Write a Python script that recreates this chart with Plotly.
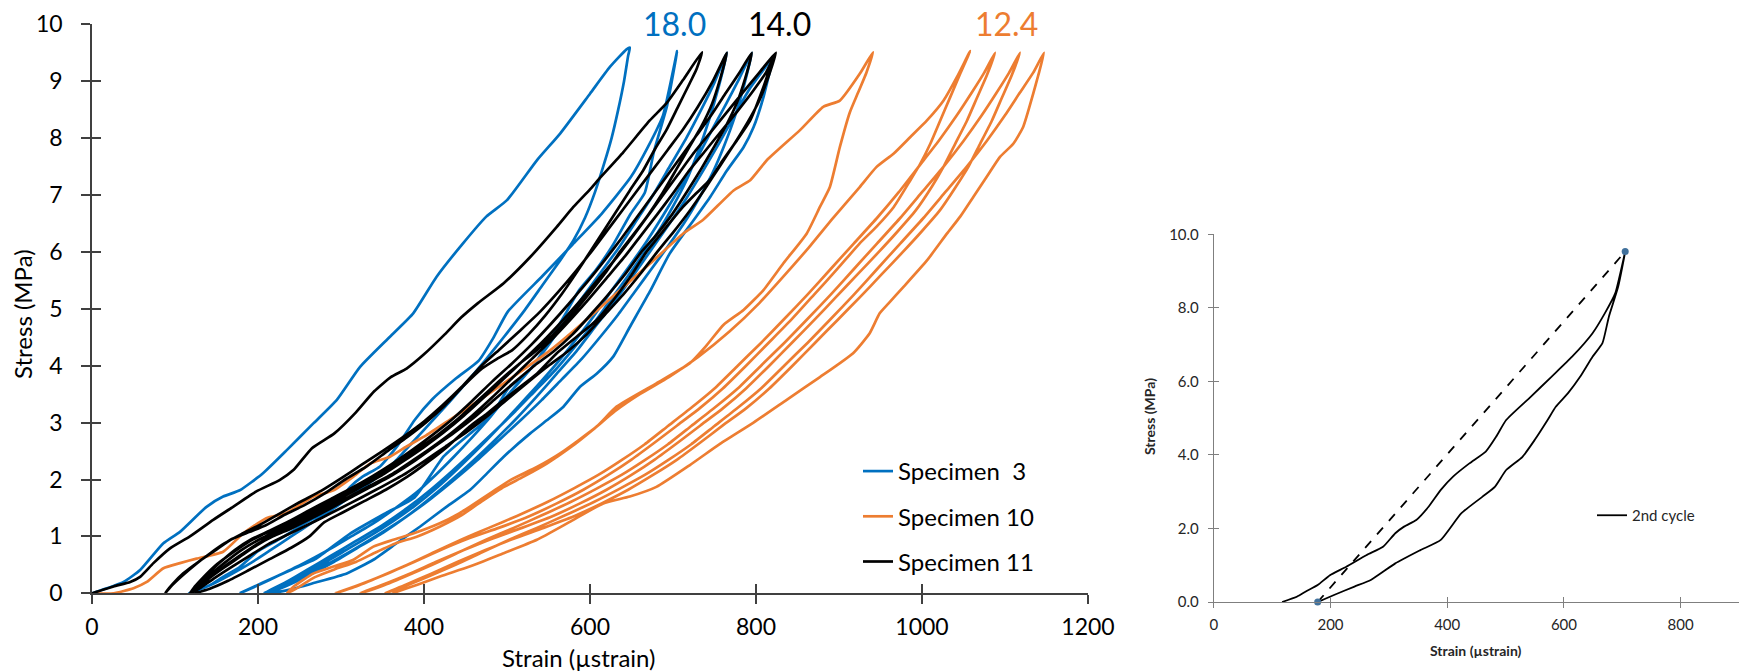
import plotly.graph_objects as go

W, H = 1744, 671
BLUE, ORANGE, BLACK = "#0070C0", "#ED7D31", "#000000"
AX = "#404040"
FONT = "Lato"

# ---------------- Specimen 3 (blue): (strain, stress) ----------------
s3_load1 = [(0,0),(38,0.2),(58,0.41),(86,0.88),(106,1.08),(138,1.52),(158,1.70),(178,1.81),(206,2.11),(235,2.52),(267,2.99),(295,3.40),(323,3.98),(359,4.51),(387,4.92),(415,5.56),(447,6.15),(475,6.62),(500,6.91),(536,7.61),(564,8.08),(600,8.78),(624,9.25),(644,9.56),(648,9.59)]
s3_unload1 = [(648,9.59),(646,9.45),(641,9.0),(634,8.5),(626,8.0),(617,7.55),(606,7.05),(594,6.6),(580,6.2),(564,5.85),(542,5.4),(520,4.95),(496,4.5),(474,4.1),(452,3.72),(430,3.35),(408,3.0),(386,2.65),(364,2.3),(340,2.0),(316,1.75),(292,1.5),(266,1.25),(240,1.0),(214,0.75),(190,0.52),(166,0.32),(142,0.14),(117,0)]
s3_load2 = [(117,0),(143,0.15),(157,0.28),(178,0.46),(199,0.73),(227,0.96),(262,1.28),(290,1.5),(311,1.87),(326,2.05),(347,2.23),(368,2.59),(389,3.05),(410,3.41),(438,3.77),(466,4.09),(484,4.5),(501,4.95),(543,5.58),(579,6.13),(614,6.67),(649,7.31),(670,7.85),(688,8.4),(705,9.53)]
s3_unload2 = [(705,9.53),(693,8.58),(677,7.76),(666,7.04),(649,6.67),(628,6.13),(607,5.68),(586,5.31),(572,4.95),(550,4.41),(529,3.95),(501,3.59),(482,3.14),(460,2.86),(424,2.41),(389,1.69),(354,1.41),(311,1.05),(269,0.6),(241,0.42),(206,0.19),(178,0)]
s3_load3 = [(178,0),(200,0.14),(226,0.32),(254,0.52),(282,0.74),(310,0.98),(338,1.22),(364,1.48),(390,1.76),(414,2.08),(436,2.4),(458,2.74),(480,3.1),(502,3.5),(526,3.9),(548,4.32),(570,4.78),(592,5.22),(614,5.66),(636,6.1),(656,6.55),(676,7.0),(696,7.5),(716,8.0),(734,8.5),(750,8.98),(765,9.5)]
s3_unload3 = [(765,9.5),(755,8.9),(743,8.3),(730,7.75),(716,7.25),(700,6.8),(682,6.35),(662,5.92),(642,5.5),(622,5.1),(602,4.7),(580,4.3),(558,3.92),(534,3.56),(510,3.2),(486,2.86),(460,2.5),(434,2.15),(408,1.82),(380,1.5),(350,1.2),(318,0.92),(288,0.66),(260,0.42),(234,0.2),(207,0)]
s3_load4 = [(207,0),(228,0.14),(252,0.32),(278,0.52),(306,0.76),(334,1.0),(362,1.26),(390,1.55),(416,1.86),(440,2.18),(464,2.52),(488,2.88),(512,3.26),(536,3.64),(560,4.04),(582,4.44),(604,4.86),(624,5.28),(646,5.72),(668,6.18),(688,6.64),(708,7.12),(728,7.62),(746,8.12),(764,8.6),(780,9.05),(795,9.5)]
s3_unload4 = [(795,9.5),(786,8.95),(775,8.4),(762,7.88),(748,7.4),(732,6.96),(714,6.52),(694,6.1),(674,5.7),(654,5.3),(634,4.9),(612,4.5),(590,4.12),(566,3.76),(542,3.4),(517,3.05),(491,2.7),(464,2.34),(437,2.0),(408,1.66),(378,1.34),(346,1.04),(314,0.76),(282,0.5),(248,0.26),(230,0.12),(212,0)]
s3_load5 = [(212,0),(236,0.14),(262,0.32),(290,0.54),(320,0.8),(350,1.06),(380,1.36),(408,1.68),(434,2.0),(460,2.34),(486,2.7),(512,3.08),(536,3.46),(560,3.86),(584,4.26),(606,4.68),(628,5.1),(650,5.54),(672,6.0),(694,6.46),(716,6.94),(736,7.42),(756,7.92),(774,8.4),(792,8.86),(808,9.18),(822,9.45)]
s3_unload5 = [(822,9.45),(819,9.31),(809,8.72),(797,8.19),(785,7.84),(765,7.43),(745,6.97),(725,6.56),(696,5.97),(672,5.3),(648,4.68),(628,4.16),(608,3.86),(588,3.63),(568,3.28),(548,3.04),(528,2.81),(496,2.4),(472,2.05),(455,1.81),(427,1.52),(395,1.17),(367,0.88),(339,0.59),(307,0.35),(267,0.18),(240,0.07),(215,0)]

# ---------------- Specimen 10 (orange) ----------------
s10_load1 = [(0,0),(26,0),(50,0.09),(66,0.2),(86,0.44),(106,0.53),(126,0.61),(158,0.73),(182,1.05),(210,1.32),(234,1.41),(267,1.7),(291,1.81),(315,2.05),(335,2.28),(359,2.4),(379,2.58),(403,2.78),(431,3.05),(467,3.4),(496,3.69),(552,4.27),(600,4.86),(640,5.38),(672,5.79),(712,6.32),(736,6.56),(773,7.08),(793,7.26),(813,7.61),(853,8.14),(881,8.55),(901,8.66),(925,9.13),(941,9.51)]
s10_unload1 = [(941,9.51),(933,9.15),(923,8.8),(913,8.45),(901,7.84),(889,7.14),(877,6.79),(861,6.32),(833,5.8),(809,5.33),(785,4.98),(761,4.72),(740,4.35),(720,4.04),(680,3.69),(632,3.28),(608,2.93),(564,2.46),(536,2.22),(504,1.99),(480,1.76),(455,1.52),(443,1.41),(419,1.23),(387,1.05),(363,0.94),(339,0.82),(315,0.59),(291,0.47),(267,0.35),(243,0.12),(235,0)]
s10_load2 = [(235,0),(248,0.1),(268,0.28),(292,0.42),(318,0.55),(342,0.72),(366,0.88),(392,1.0),(420,1.18),(446,1.38),(470,1.62),(494,1.85),(520,2.05),(548,2.28),(578,2.58),(604,2.88),(630,3.2),(660,3.5),(695,3.8),(730,4.15),(768,4.6),(804,5.1),(835,5.6),(862,6.05),(893,6.6),(925,7.14),(945,7.49),(966,7.73),(986,8.02),(1006,8.31),(1026,8.66),(1042,9.07),(1058,9.53)]
s10_unload2 = [(1058,9.53),(1046,9.13),(1034,8.72),(1022,8.31),(1010,7.9),(998,7.55),(986,7.26),(966,6.79),(945,6.44),(925,6.15),(898,5.7),(870,5.25),(842,4.8),(815,4.4),(788,4.0),(760,3.6),(732,3.25),(705,2.95),(678,2.65),(650,2.35),(622,2.08),(592,1.82),(560,1.58),(526,1.35),(490,1.15),(455,0.97),(420,0.76),(388,0.55),(355,0.34),(322,0.15),(293,0)]
s10_load3 = [(293,0),(318,0.12),(348,0.3),(380,0.5),(412,0.72),(446,0.95),(478,1.15),(512,1.36),(548,1.6),(580,1.84),(610,2.08),(638,2.34),(666,2.62),(694,2.94),(722,3.26),(750,3.6),(778,4.0),(806,4.4),(834,4.82),(862,5.25),(890,5.7),(918,6.15),(946,6.6),(972,7.05),(996,7.5),(1020,7.95),(1042,8.4),(1060,8.8),(1075,9.15),(1088,9.5)]
s10_unload3 = [(1088,9.5),(1078,9.1),(1066,8.7),(1054,8.3),(1040,7.9),(1026,7.5),(1012,7.15),(992,6.72),(970,6.35),(948,6.0),(922,5.6),(896,5.2),(870,4.8),(843,4.4),(816,4.0),(788,3.6),(760,3.25),(733,2.95),(706,2.65),(678,2.35),(650,2.08),(620,1.82),(588,1.58),(554,1.35),(518,1.15),(482,0.96),(448,0.76),(414,0.55),(382,0.34),(350,0.15),(323,0)]
s10_load4 = [(323,0),(348,0.12),(378,0.3),(410,0.5),(442,0.72),(476,0.95),(508,1.15),(542,1.37),(576,1.6),(608,1.84),(638,2.08),(666,2.34),(694,2.62),(722,2.94),(750,3.26),(778,3.6),(806,4.0),(834,4.4),(862,4.82),(890,5.25),(918,5.7),(946,6.15),(974,6.6),(1000,7.05),(1026,7.5),(1050,7.95),(1072,8.4),(1090,8.8),(1105,9.15),(1118,9.5)]
s10_unload4 = [(1118,9.5),(1108,9.1),(1096,8.7),(1084,8.3),(1070,7.9),(1056,7.5),(1041,7.15),(1021,6.72),(999,6.35),(977,6.0),(951,5.6),(925,5.2),(898,4.8),(871,4.4),(844,4.0),(816,3.6),(788,3.25),(760,2.95),(733,2.65),(705,2.35),(676,2.08),(646,1.82),(614,1.58),(580,1.35),(544,1.15),(508,0.96),(474,0.76),(440,0.55),(408,0.34),(378,0.15),(353,0)]
s10_load5 = [(353,0),(376,0.12),(406,0.3),(438,0.5),(470,0.72),(504,0.95),(536,1.15),(570,1.37),(604,1.6),(636,1.84),(666,2.08),(694,2.34),(722,2.62),(750,2.94),(778,3.26),(806,3.6),(834,4.0),(862,4.4),(890,4.82),(918,5.25),(946,5.7),(974,6.15),(1002,6.6),(1028,7.05),(1054,7.5),(1078,7.95),(1100,8.4),(1118,8.8),(1134,9.15),(1147,9.5)]
s10_unload5 = [(1147,9.5),(1140,9.1),(1134,8.78),(1122,8.2),(1110,7.9),(1094,7.67),(1078,7.32),(1062,6.97),(1046,6.62),(1030,6.32),(1006,5.85),(978,5.39),(960,5.1),(949,4.92),(937,4.57),(917,4.22),(877,3.8),(837,3.4),(797,3.0),(757,2.63),(720,2.25),(680,1.87),(648,1.7),(616,1.58),(575,1.25),(536,0.94),(495,0.7),(455,0.47),(420,0.3),(392,0.15),(370,0.04),(362,0)]

# ---------------- Specimen 11 (black) ----------------
s11_load1 = [(0,0),(26,0.12),(46,0.2),(58,0.29),(74,0.53),(94,0.79),(118,1.0),(146,1.29),(170,1.52),(198,1.79),(226,1.99),(243,2.17),(265,2.55),(292,2.81),(318,3.18),(340,3.55),(360,3.8),(379,3.95),(400,4.2),(425,4.55),(445,4.85),(465,5.1),(496,5.45),(528,5.91),(560,6.44),(580,6.79),(600,7.1),(612,7.3),(640,7.75),(672,8.31),(692,8.61),(712,9.02),(735,9.51)]
s11_unload1 = [(735,9.51),(728,9.2),(720,8.96),(706,8.55),(692,8.14),(678,7.8),(664,7.43),(648,7.08),(632,6.72),(616,6.36),(600,6.0),(584,5.64),(566,5.26),(546,4.88),(526,4.55),(506,4.27),(488,4.12),(470,3.95),(448,3.65),(425,3.3),(402,3.0),(380,2.75),(356,2.5),(330,2.22),(305,2.0),(280,1.75),(256,1.55),(232,1.38),(210,1.2),(190,1.08),(168,0.95),(148,0.75),(128,0.55),(110,0.35),(97,0.16),(88,0)]
s11_load2 = [(88,0),(95,0.12),(108,0.3),(124,0.5),(142,0.7),(160,0.88),(180,1.04),(202,1.2),(226,1.4),(250,1.6),(276,1.8),(300,2.02),(325,2.26),(350,2.5),(376,2.76),(400,3.02),(422,3.3),(445,3.62),(468,3.98),(492,4.3),(516,4.62),(540,4.95),(562,5.3),(584,5.68),(604,6.05),(622,6.4),(640,6.75),(658,7.1),(676,7.45),(694,7.8),(712,8.15),(730,8.55),(748,9.0),(765,9.5)]
s11_unload2 = [(765,9.5),(757,9.05),(747,8.6),(734,8.2),(720,7.85),(704,7.45),(688,7.05),(670,6.65),(652,6.3),(636,6.0),(618,5.62),(598,5.25),(578,4.9),(556,4.55),(534,4.25),(512,4.0),(490,3.72),(466,3.4),(442,3.08),(418,2.8),(394,2.55),(370,2.3),(346,2.08),(322,1.9),(296,1.68),(272,1.5),(248,1.32),(226,1.16),(205,1.03),(186,0.88),(166,0.68),(148,0.48),(134,0.28),(124,0.12),(118,0)]
s11_load3 = [(118,0),(126,0.14),(138,0.32),(154,0.54),(172,0.76),(192,0.95),(214,1.1),(238,1.27),(262,1.46),(288,1.66),(314,1.86),(338,2.06),(362,2.28),(386,2.52),(410,2.78),(434,3.06),(458,3.38),(482,3.72),(506,4.04),(530,4.38),(552,4.72),(574,5.08),(596,5.46),(618,5.86),(638,6.24),(656,6.6),(674,6.96),(692,7.32),(710,7.68),(728,8.04),(746,8.4),(764,8.8),(780,9.15),(795,9.5)]
s11_unload3 = [(795,9.5),(787,9.05),(777,8.62),(764,8.22),(750,7.86),(734,7.46),(717,7.06),(699,6.66),(680,6.3),(662,6.0),(643,5.62),(622,5.25),(601,4.9),(579,4.55),(556,4.25),(533,4.0),(510,3.72),(486,3.42),(461,3.1),(436,2.82),(411,2.56),(386,2.3),(361,2.07),(337,1.88),(311,1.68),(286,1.48),(262,1.3),(240,1.14),(218,1.0),(198,0.84),(178,0.64),(158,0.44),(140,0.25),(127,0.1),(118,0)]
s11_load4 = [(118,0),(128,0.14),(142,0.32),(160,0.54),(180,0.76),(202,0.95),(226,1.12),(250,1.3),(276,1.49),(302,1.69),(328,1.9),(352,2.1),(376,2.33),(400,2.57),(424,2.83),(448,3.12),(472,3.44),(496,3.77),(520,4.1),(544,4.44),(566,4.78),(588,5.14),(610,5.52),(632,5.9),(652,6.28),(670,6.64),(688,7.0),(706,7.36),(724,7.72),(744,8.08),(764,8.44),(784,8.8),(804,9.15),(824,9.5)]
s11_unload4 = [(824,9.5),(815,9.08),(804,8.66),(790,8.28),(774,7.9),(757,7.52),(739,7.12),(720,6.72),(700,6.34),(681,6.0),(661,5.62),(640,5.25),(618,4.9),(596,4.55),(573,4.25),(550,4.0),(526,3.72),(502,3.43),(477,3.12),(452,2.84),(426,2.58),(400,2.32),(375,2.08),(350,1.88),(324,1.68),(300,1.5),(276,1.32),(254,1.16),(234,1.02),(212,0.86),(190,0.66),(168,0.46),(148,0.27),(132,0.11),(120,0)]
s11_load5 = [(120,0),(130,0.14),(146,0.32),(166,0.54),(188,0.76),(210,0.96),(234,1.13),(258,1.31),(284,1.5),(310,1.7),(336,1.9),(362,2.1),(386,2.33),(410,2.57),(434,2.83),(458,3.12),(482,3.44),(506,3.78),(530,4.12),(554,4.46),(576,4.8),(598,5.16),(620,5.54),(642,5.92),(662,6.3),(681,6.66),(700,7.03),(718,7.4),(738,7.76),(758,8.12),(778,8.48),(796,8.82),(812,9.15),(824,9.5)]
s11_unload5 = [(824,9.5),(816,9.2),(809,8.9),(793,8.31),(777,7.96),(760,7.61),(744,7.26),(728,7.03),(712,6.79),(690,6.4),(668,6.0),(648,5.55),(628,5.15),(608,4.8),(584,4.51),(560,4.22),(536,3.86),(516,3.63),(496,3.4),(476,3.16),(455,2.93),(430,2.6),(404,2.3),(380,2.05),(354,1.82),(328,1.62),(302,1.42),(280,1.25),(262,1.0),(240,0.8),(214,0.6),(188,0.4),(164,0.22),(142,0.08),(124,0)]

# labels / ticks
modulus_labels = [("18.0", BLUE, 674), ("14.0", BLACK, 779), ("12.4", ORANGE, 1006)]
main_xticks = [0, 200, 400, 600, 800, 1000, 1200]
main_yticks = list(range(0, 11))
inset_xticks = [0, 200, 400, 600, 800]
inset_yticks = [0, 2, 4, 6, 8, 10]


def path(*branches):
    xs, ys = [], []
    for i, b in enumerate(branches):
        pts = b if i == 0 else b[1:]
        xs += [p[0] for p in pts]
        ys += [p[1] for p in pts]
    return xs, ys


fig = go.Figure()

specs = [
    ("Specimen \u00a03", BLUE, [s3_load1, s3_unload1, s3_load2, s3_unload2, s3_load3, s3_unload3, s3_load4, s3_unload4, s3_load5, s3_unload5]),
    ("Specimen 10", ORANGE, [s10_load1, s10_unload1, s10_load2, s10_unload2, s10_load3, s10_unload3, s10_load4, s10_unload4, s10_load5, s10_unload5]),
    ("Specimen 11", BLACK, [s11_load1, s11_unload1, s11_load2, s11_unload2, s11_load3, s11_unload3, s11_load4, s11_unload4, s11_load5, s11_unload5]),
]
for name, col, branches in specs:
    xs, ys = path(*branches)
    fig.add_trace(go.Scatter(x=xs, y=ys, mode="lines", name=name, legendgroup=name,
                             line=dict(color=col, width=2.7, shape="spline", smoothing=0.5),
                             xaxis="x", yaxis="y", legend="legend", hoverinfo="skip"))

# inset: 2nd cycle of specimen 3
cx, cy = path(s3_load2, s3_unload2)
fig.add_trace(go.Scatter(x=cx, y=cy, mode="lines", name="2nd cycle",
                         line=dict(color=BLACK, width=1.8, shape="spline", smoothing=0.5),
                         xaxis="x2", yaxis="y2", legend="legend2", hoverinfo="skip"))
sec_x = [s3_unload2[-1][0], s3_load2[-1][0]]
sec_y = [s3_unload2[-1][1], s3_load2[-1][1]]
fig.add_trace(go.Scatter(x=sec_x, y=sec_y, mode="lines+markers", showlegend=False,
                         line=dict(color=BLACK, width=1.8, dash="dash"),
                         marker=dict(color="#41719C", size=7), cliponaxis=False,
                         xaxis="x2", yaxis="y2", hoverinfo="skip"))

# invisible helpers so the overlay axes (inner half of cross ticks) get drawn
for xa, ya in [("x3", "y"), ("x", "y3"), ("x4", "y2"), ("x2", "y4")]:
    fig.add_trace(go.Scatter(x=[0], y=[0], mode="markers", marker=dict(opacity=0, size=1),
                             showlegend=False, hoverinfo="skip", xaxis=xa, yaxis=ya))

main_x_dom = [92 / W, 1088 / W]
main_y_dom = [1 - 593.3 / H, 1 - 24.3 / H]
ins_x_dom = [1213.8 / W, 1739 / W]
ins_y_dom = [1 - 602 / H, 1 - 234.3 / H]

common = dict(showgrid=False, zeroline=False, showline=True, automargin=False)
ovl = dict(showticklabels=False, showline=False, showgrid=False, zeroline=False, automargin=False)
fig.update_layout(
    width=W, height=H, margin=dict(l=0, r=0, t=0, b=0, autoexpand=False),
    paper_bgcolor="white", plot_bgcolor="white",
    font=dict(family=FONT, color=BLACK),
    xaxis=dict(domain=main_x_dom, range=[0, 1200], tickvals=main_xticks, anchor="y",
               ticks="outside", ticklen=9, tickwidth=1.5, tickcolor=AX, linecolor=AX, linewidth=1.5,
               tickfont=dict(size=23, color=BLACK, family=FONT), ticklabelstandoff=3, **common),
    yaxis=dict(domain=main_y_dom, range=[0, 10], tickvals=main_yticks, anchor="x",
               ticks="outside", ticklen=9, tickwidth=1.5, tickcolor=AX, linecolor=AX, linewidth=1.5,
               tickfont=dict(size=23, color=BLACK, family=FONT), ticklabelstandoff=14, **common),
    xaxis3=dict(overlaying="x", anchor="y", range=[0, 1200], tickvals=main_xticks, ticks="inside",
                ticklen=9, tickwidth=1.5, tickcolor=AX, **ovl),
    yaxis3=dict(overlaying="y", anchor="x", range=[0, 10], tickvals=main_yticks, ticks="inside",
                ticklen=9, tickwidth=1.5, tickcolor=AX, **ovl),
    xaxis2=dict(domain=ins_x_dom, range=[0, 900], tickvals=inset_xticks, anchor="y2",
                ticks="outside", ticklen=5, tickwidth=1, tickcolor="#7F7F7F", linecolor="#7F7F7F", linewidth=1,
                tickfont=dict(size=15, color="#262626", family=FONT), ticklabelstandoff=4, **common),
    yaxis2=dict(domain=ins_y_dom, range=[0, 10], tickvals=inset_yticks, tickformat=".1f", anchor="x2",
                ticks="outside", ticklen=5, tickwidth=1, tickcolor="#7F7F7F", linecolor="#7F7F7F", linewidth=1,
                tickfont=dict(size=15, color="#262626", family=FONT), ticklabelstandoff=6, **common),
    xaxis4=dict(overlaying="x2", anchor="y2", range=[0, 900], tickvals=inset_xticks, ticks="inside",
                ticklen=5, tickwidth=1, tickcolor="#7F7F7F", **ovl),
    yaxis4=dict(overlaying="y2", anchor="x2", range=[0, 10], tickvals=inset_yticks, ticks="inside",
                ticklen=5, tickwidth=1, tickcolor="#7F7F7F", **ovl),
    legend=dict(x=858 / W, y=1 - 449 / H, xanchor="left", yanchor="top", bgcolor="rgba(0,0,0,0)",
                font=dict(size=24, family=FONT, color=BLACK), traceorder="grouped", tracegroupgap=11),
    legend2=dict(x=1592 / W, y=1 - 499 / H, xanchor="left", yanchor="top", bgcolor="rgba(0,0,0,0)",
                 font=dict(size=15, family=FONT, color="#262626")),
    showlegend=True,
)

ann = []
ann.append(dict(text="Stress (MPa)", x=22 / W, y=1 - 314 / H, textangle=-90,
                font=dict(size=24, family=FONT, color=BLACK)))
ann.append(dict(text="Strain (µstrain)", x=578 / W, y=1 - 657 / H,
                font=dict(size=24, family=FONT, color=BLACK)))
for txt, col, xpx in modulus_labels:
    ann.append(dict(text=txt, x=xpx / W, y=1 - 23 / H, font=dict(size=32, family=FONT, color=col)))
ann.append(dict(text="Stress (MPa)", x=1149 / W, y=1 - 417 / H, textangle=-90,
                font=dict(size=14, family=FONT, color="#262626", weight="bold")))
ann.append(dict(text="Strain (µstrain)", x=1476 / W, y=1 - 650 / H,
                font=dict(size=14, family=FONT, color="#262626", weight="bold")))
for a in ann:
    a.update(xref="paper", yref="paper", showarrow=False, xanchor="center", yanchor="middle")
fig.update_layout(annotations=ann)

fig.write_html("out.html", config={"displayModeBar": False},
               post_script="document.body.style.margin='0';document.body.style.overflow='hidden';")
